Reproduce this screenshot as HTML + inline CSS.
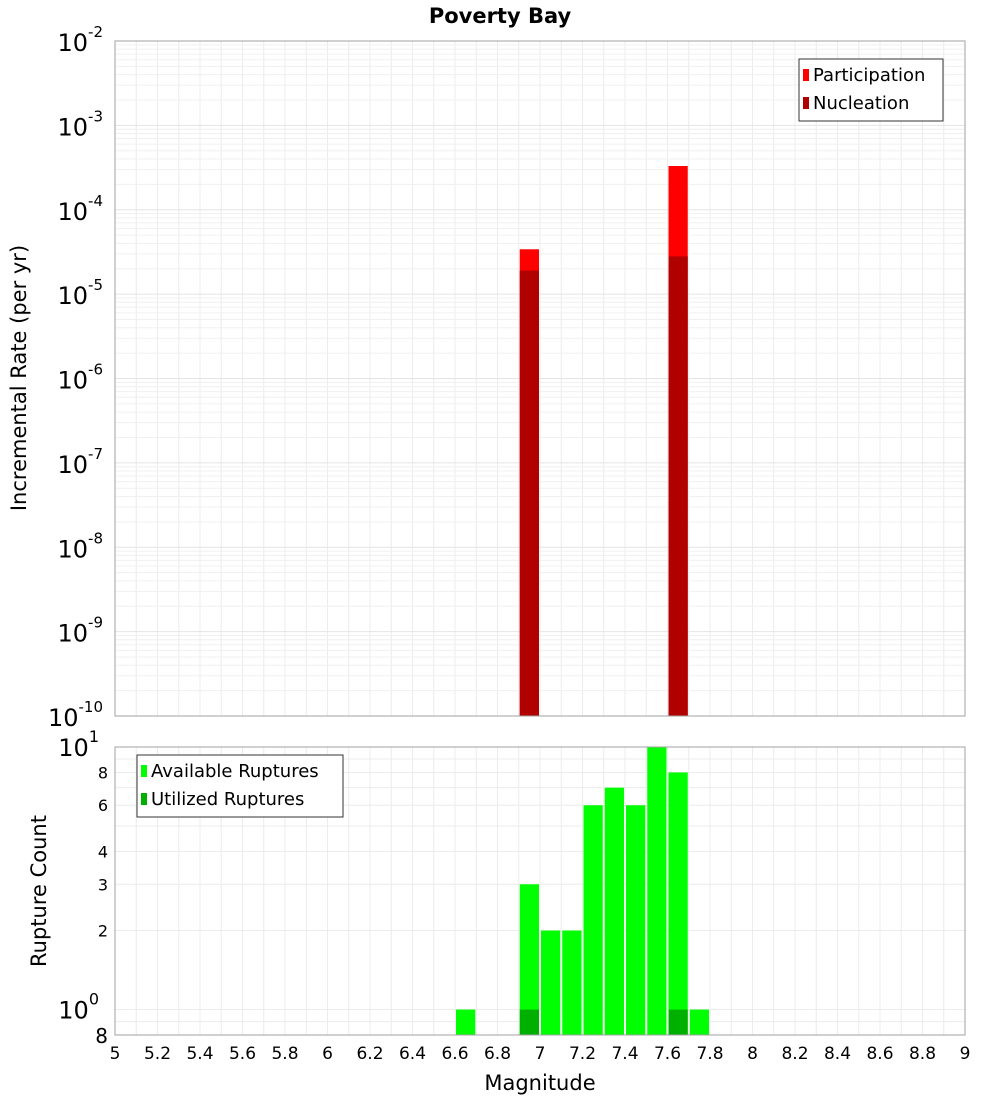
<!DOCTYPE html>
<html><head><meta charset="utf-8"><style>
html,body{margin:0;padding:0;background:#fff;}
svg{display:block;font-family:"DejaVu Sans","Liberation Sans",sans-serif;}
</style></head><body>
<svg id="chart" width="1000" height="1100">
<text x="500" y="23" text-anchor="middle" font-weight="bold" font-size="21">Poverty Bay</text>
<g id="top"></g>
<g id="bot"></g>
<text transform="translate(26,378) rotate(-90)" text-anchor="middle" font-size="21">Incremental Rate (per yr)</text>
<text transform="translate(46,891) rotate(-90)" text-anchor="middle" font-size="21">Rupture Count</text>
<text x="540" y="1090" text-anchor="middle" font-size="21">Magnitude</text>
</svg>
<script>
const mags = [6.65,6.95,7.05,7.15,7.25,7.35,7.45,7.55,7.65,7.75];
const available = [1,3,2,2,6,7,6,10,8,1];
const utilized = [0,1,0,0,0,0,0,0,1,0];
const rateMags = [6.95,7.65];
const participation = [3.4e-5,3.3e-4];
const nucleation = [1.9e-5,2.8e-5];
const xTicks = [5,5.2,5.4,5.6,5.8,6,6.2,6.4,6.6,6.8,7,7.2,7.4,7.6,7.8,8,8.2,8.4,8.6,8.8,9];
const NS="http://www.w3.org/2000/svg";
const L=115,R=965;
const xs=m=>L+(m-5)/4*(R-L);
const T1=41,B1=716;
const yTop=v=>T1+(-2-Math.log10(v))/8*(B1-T1);
const T2=747,B2=1035;
const yBot=v=>T2+(1-Math.log10(v))/(1-Math.log10(0.8))*(B2-T2);
function el(p,tag,a,txt){const e=document.createElementNS(NS,tag);for(const k in a)e.setAttribute(k,a[k]);if(txt!==undefined)e.textContent=txt;p.appendChild(e);return e;}
const gTop=document.getElementById('top'),gBot=document.getElementById('bot');
function vgrid(g,t,b){for(let i=0;i<=40;i++){const m=5+i*0.1;const l=el(g,'line',{x1:xs(m),x2:xs(m),y1:t,y2:b,stroke:'#ececec','stroke-width':1});

}}
vgrid(gTop,T1,B1);vgrid(gBot,T2,B2);
for(let d=-10;d<-2;d++)for(let k=1;k<10;k++){const yy=yTop(k*Math.pow(10,d));const l=el(gTop,'line',{x1:L,x2:R,y1:yy,y2:yy,stroke:k==1?'#e4e4e4':'#f0f0f0','stroke-width':1});

}
[0.9,1,2,3,4,5,6,7,8,9].forEach(v=>{const yy=yBot(v);const l=el(gBot,'line',{x1:L,x2:R,y1:yy,y2:yy,stroke:'#ececec','stroke-width':1});

});
rateMags.forEach((m,i)=>{
 const b=el(gTop,'rect',{x:xs(m-0.05)+1,width:xs(m+0.05)-xs(m-0.05)-2,y:yTop(participation[i]),height:B1-yTop(participation[i]),fill:'#ff0000'});
 
 
 const n=el(gTop,'rect',{x:xs(m-0.05)+1,width:xs(m+0.05)-xs(m-0.05)-2,y:yTop(nucleation[i]),height:B1-yTop(nucleation[i]),fill:'#b00000'});
 
 
});
mags.forEach((m,i)=>{
 const y0=yBot(available[i]);
 const b=el(gBot,'rect',{x:xs(m-0.05)+1,width:xs(m+0.05)-xs(m-0.05)-2,y:y0,height:B2-y0,fill:'#00ff00'});
 
 
 if(utilized[i]>0){const y1=yBot(utilized[i]);const u=el(gBot,'rect',{x:xs(m-0.05)+1,width:xs(m+0.05)-xs(m-0.05)-2,y:y1,height:B2-y1,fill:'#00b000'});
 
 }
});
let f=el(gTop,'rect',{x:L,y:T1,width:R-L,height:B1-T1,fill:'none',stroke:'#a0a0a0'});


f=el(gBot,'rect',{x:L,y:T2,width:R-L,height:B2-T2,fill:'none',stroke:'#a0a0a0'});


for(let d=-2;d>=-10;d--){const yy=yTop(Math.pow(10,d));const t=el(gTop,'text',{x:103,y:yy+10,'text-anchor':'end','font-size':24});


 t.textContent='10';el(t,'tspan',{dy:-14,'font-size':15},String(d));}
const bl=[[10,'10','1',true],[8,'8'],[6,'6'],[4,'4'],[3,'3'],[2,'2'],[1,'10','0',true],[0.8,'8']];
bl.forEach(([v,a,e,big])=>{const yy=yBot(v);const t=el(gBot,'text',{x:big?99:108,y:yy+(big?9:6),'text-anchor':'end','font-size':big?24:16});


 t.textContent=a;if(e){el(t,'tspan',{dy:-14,'font-size':16},e);}
 if(v===0.8){t.setAttribute('y',B2+8);t.setAttribute('font-size',20);}});
xTicks.forEach(m=>{const t=el(gBot,'text',{x:xs(m),y:1059,'text-anchor':'middle','font-size':17},String(m));

});
function legend(g,x0,y0,w,items,name){const lg=el(g,'g',{});


 el(lg,'rect',{x:x0,y:y0,width:w,height:items.length*28+6,fill:'#fff',stroke:'#333'});
 items.forEach(([c,l],i)=>{el(lg,'rect',{x:x0+4,y:y0+10+i*28,width:6,height:12,fill:c});const t=el(lg,'text',{x:x0+14,y:y0+22+i*28,'font-size':18},l);

});}
legend(gTop,799,59,144,[['#ff0000','Participation'],['#b00000','Nucleation']],'rate-legend');
legend(gBot,137,755,206,[['#00ff00','Available Ruptures'],['#00b000','Utilized Ruptures']],'count-legend');
</script>
</body></html>
